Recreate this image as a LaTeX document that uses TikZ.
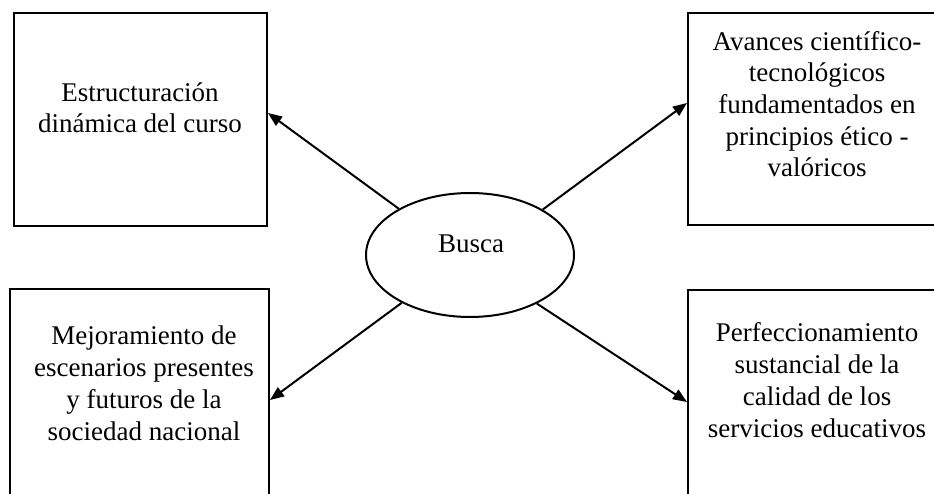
\documentclass[tikz,border=0pt]{standalone}
\usepackage{fontspec}
\setmainfont{Liberation Serif}
\usetikzlibrary{shapes.geometric,arrows.meta,calc}
\begin{document}
\begin{tikzpicture}[x=1pt,y=-1pt,
  box/.style={draw, line width=2pt, inner sep=0pt, anchor=north west},
  caption/.style={align=center, anchor=base, inner sep=0pt,
    font=\fontsize{27}{31.7}\selectfont},
  conn/.style={line width=2pt, -{Triangle[length=14pt,width=11pt]}},
]
\useasboundingbox (0,0) rectangle (934,494);
\clip (0,0) rectangle (934,494);

% outer boxes
\node[box, minimum width=253pt, minimum height=213pt] (tl) at (13,12) {};
\node[box, minimum width=260pt, minimum height=212pt] (tr) at (687,12) {};
\node[box, minimum width=259pt, minimum height=260pt] (bl) at (9,288) {};
\node[box, minimum width=260pt, minimum height=260pt] (br) at (687,289) {};

% box texts (anchored at the baseline of the last line)
\node[caption] (tltxt) at (140,133) {Estructuración\\dinámica del curso};
\node[caption] (trtxt) at (817,177) {Avances científico-\\tecnológicos\\fundamentados en\\principios ético -\\valóricos};
\node[caption] (bltxt) at (144,440) {Mejoramiento de\\escenarios presentes\\y futuros de la\\sociedad nacional};
\node[caption] (brtxt) at (817,437) {Perfeccionamiento\\sustancial de la\\calidad de los\\servicios educativos};

% central ellipse
\node[draw, ellipse, line width=2pt, inner sep=0pt,
      minimum width=208pt, minimum height=124pt] (busca) at (470,255) {};
\node[caption] (buscatxt) at (471,253) {Busca};

% connectors
\draw[conn] (busca.147) -- ($(tl.north east)+(0,101)$);
\draw[conn] (busca.32) -- ($(tr.north west)+(0,91)$);
\draw[conn] (busca.215) -- ($(bl.north east)+(0,112)$);
\draw[conn] (busca.324) -- ($(br.north west)+(0,113)$);
\end{tikzpicture}
\end{document}
